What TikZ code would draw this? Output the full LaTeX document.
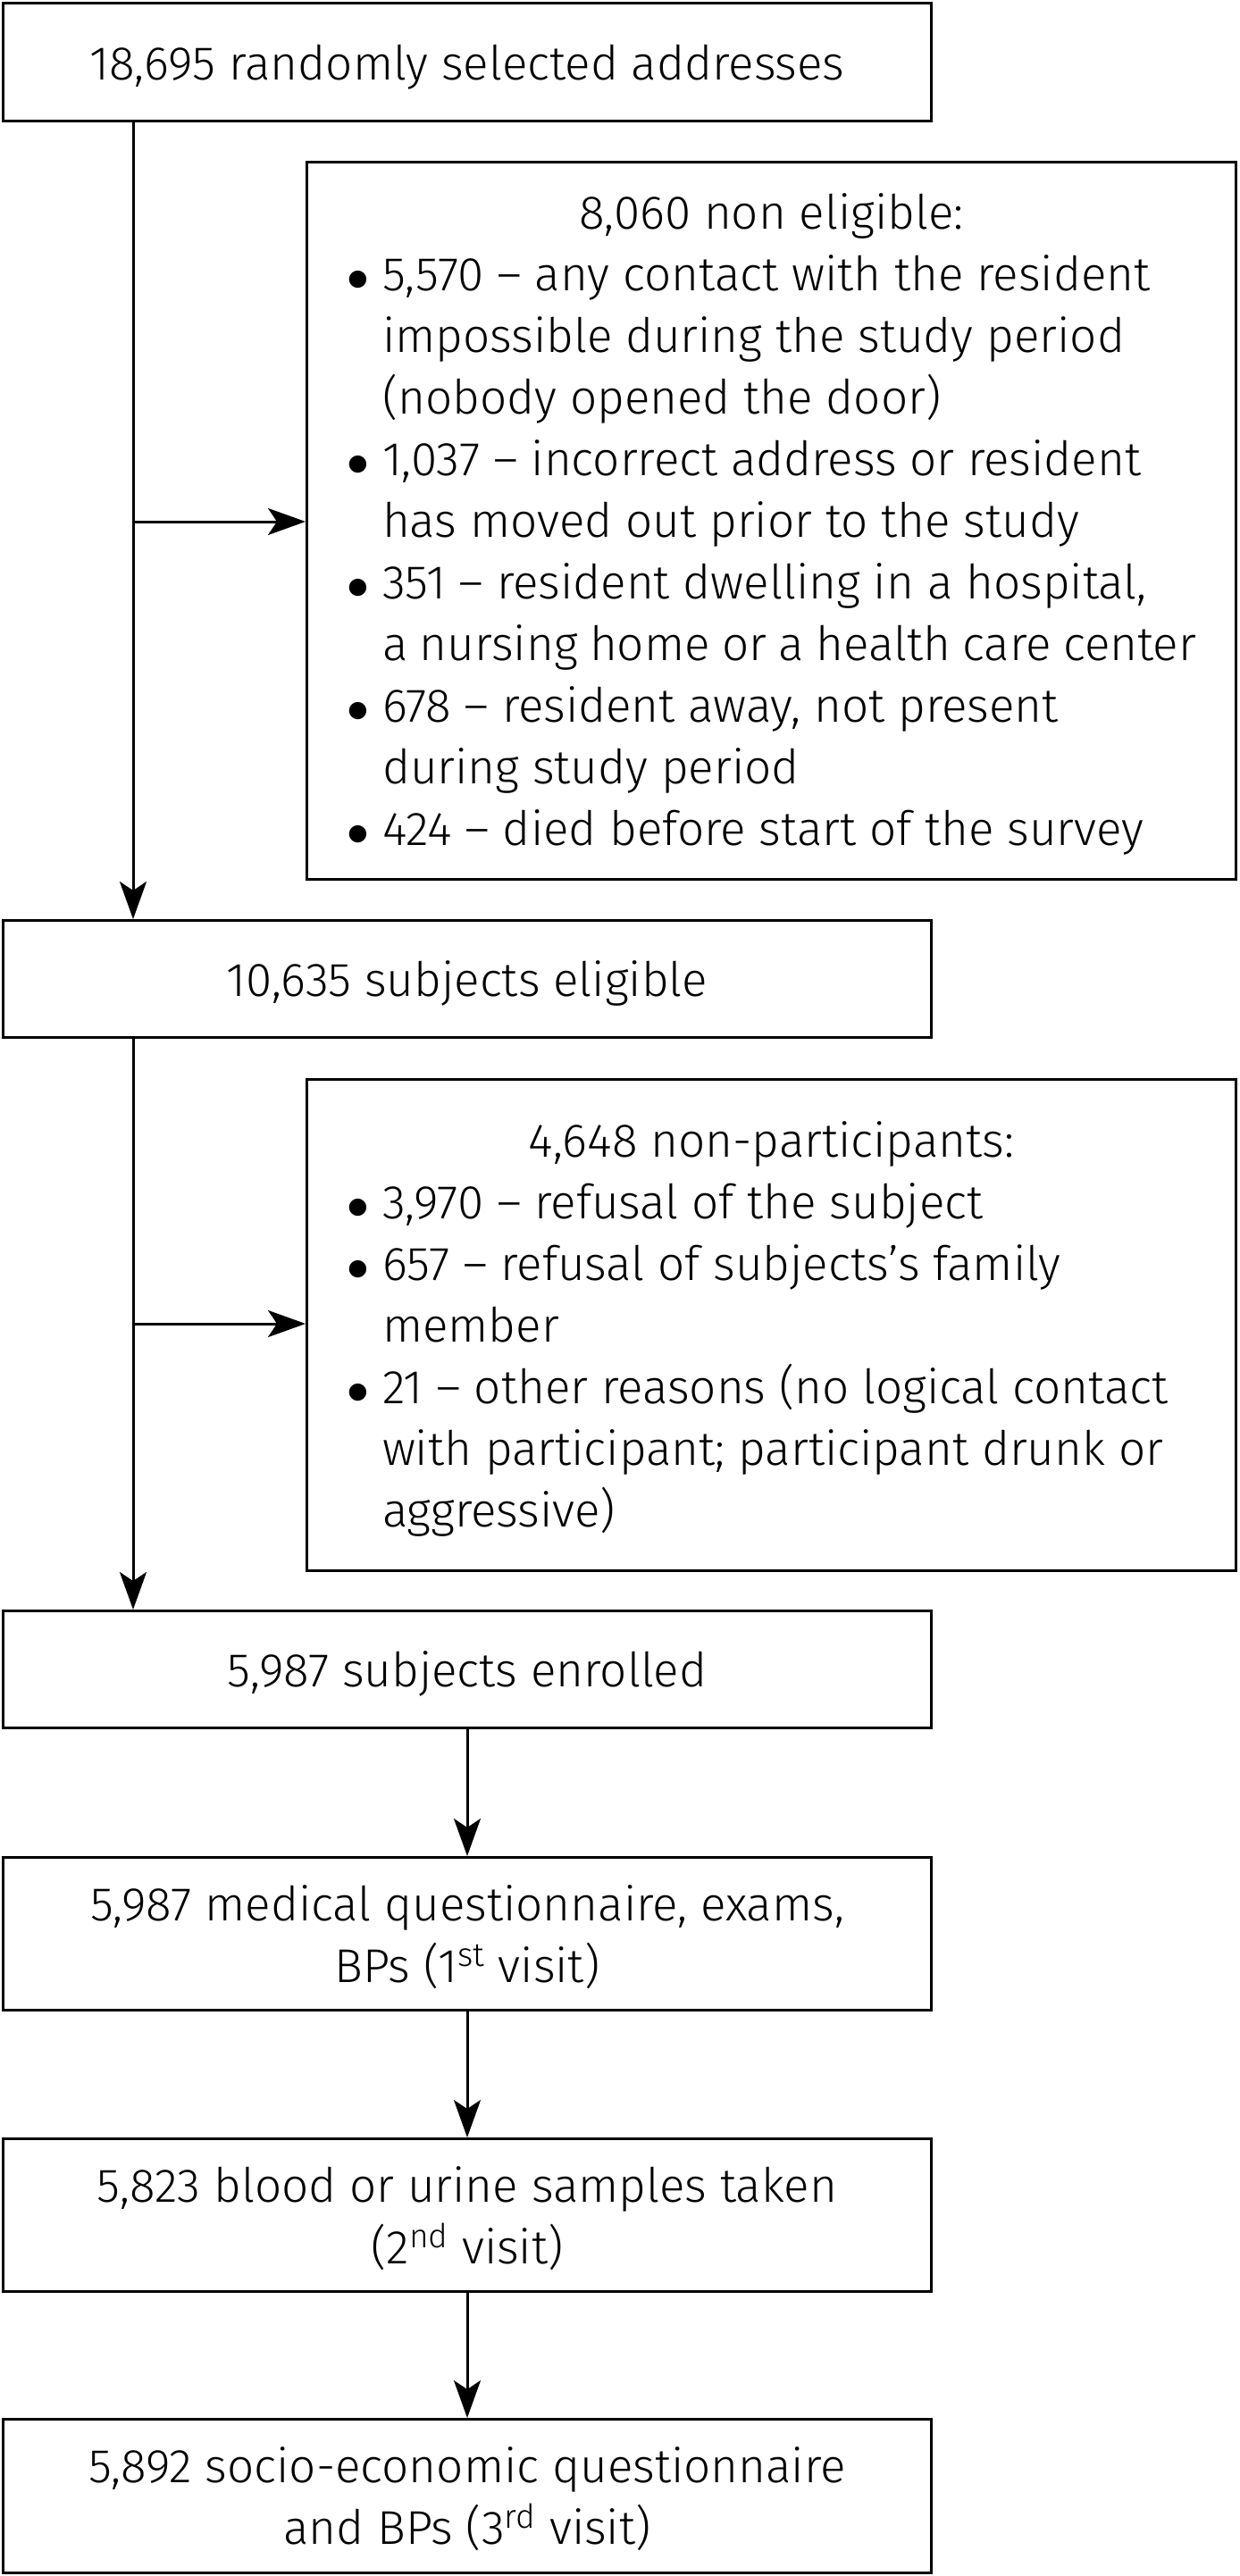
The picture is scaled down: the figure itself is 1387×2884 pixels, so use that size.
\documentclass[tikz,border=0pt]{standalone}
\usepackage{fontspec}
\IfFontExistsTF{Fira Sans Light}{\setmainfont{Fira Sans Light}}{\setmainfont{Fira Sans}}
\usetikzlibrary{arrows.meta}
\newcommand{\bul}{\makebox[20pt][l]{$\bullet$}}
\newcommand{\ind}{\hspace*{20pt}}
\newcommand{\bodyfont}{\fontsize{26.5}{34.5}\selectfont}
\newcommand{\dn}[2][6pt]{\raisebox{0pt}[\dimexpr\height+#1\relax]{#2}}
\newcommand{\cl}[1]{\dn{\begin{tabular}{@{}c@{}}#1\end{tabular}}}
\begin{document}
\begin{tikzpicture}[x=0.5pt,y=-0.5pt,
  box/.style={draw, line width=1.5pt, minimum width=520pt, inner sep=0pt, align=center,
    font=\bodyfont},
  arr/.style={line width=1.5pt, -{Stealth[length=21pt,width=15pt,inset=5pt]}}]
\useasboundingbox (0,0) rectangle (1387,2884);
\node[box, minimum width=519.5pt, minimum height=66pt] (b1) at (523,69.5) {\cl{18,695 randomly selected addresses}};
\node[box, minimum height=401.5pt] (b2) at (863.5,583) {\dn[4pt]{\begin{minipage}{475.5pt}\bodyfont
{\centering 8,060 non eligible:\par}
\raggedright
\bul 5,570 – any contact with the resident\\
\ind impossible during the study period\\
\ind (nobody opened the door)\\
\bul 1,037 – incorrect address or resident\\
\ind has moved out prior to the study\\
\bul 351 – resident dwelling in a hospital,\\
\ind a nursing home or a health care center\\
\bul 678 – resident away, not present\\
\ind during study period\\
\bul 424 – died before start of the survey
\end{minipage}}};
\node[box, minimum width=519.5pt, minimum height=65.5pt] (b3) at (523,1096) {\cl{10,635 subjects eligible}};
\node[box, minimum height=275pt] (b4) at (863.5,1483.5) {\dn[4pt]{\begin{minipage}{475.5pt}\bodyfont
{\centering 4,648 non-participants:\par}
\raggedright
\bul 3,970 – refusal of the subject\\
\bul 657 – refusal of subjects’s family\\
\ind member\\
\bul 21 – other reasons (no logical contact\\
\ind with participant; participant drunk or\\
\ind aggressive)
\end{minipage}}};
\node[box, minimum width=519.5pt, minimum height=65.5pt] (b5) at (523,1869) {\cl{5,987 subjects enrolled}};
\node[box, minimum width=519.5pt, minimum height=85.5pt] (b6) at (523,2165) {\cl{5,987 medical questionnaire, exams,\\BPs (1\textsuperscript{st} visit)}};
\node[box, minimum width=519.5pt, minimum height=85.5pt] (b7) at (523,2480) {\cl{5,823 blood or urine samples taken\\(2\textsuperscript{nd} visit)}};
\node[box, minimum width=519.5pt, minimum height=86pt] (b8) at (523,2794.5) {\cl{5,892 socio-economic questionnaire\\and BPs (3\textsuperscript{rd} visit)}};
\coordinate (t) at (149,0);
\coordinate (j1) at (149,584);
\coordinate (j2) at (149,1482);
\draw[arr] (b1.south -| t) -- (b3.north -| t);
\draw[arr] (j1) -- (j1 -| b2.west);
\draw[arr] (b3.south -| t) -- (b5.north -| t);
\draw[arr] (j2) -- (j2 -| b4.west);
\draw[arr] (b5) -- (b6);
\draw[arr] (b6) -- (b7);
\draw[arr] (b7) -- (b8);
\end{tikzpicture}
\end{document}
